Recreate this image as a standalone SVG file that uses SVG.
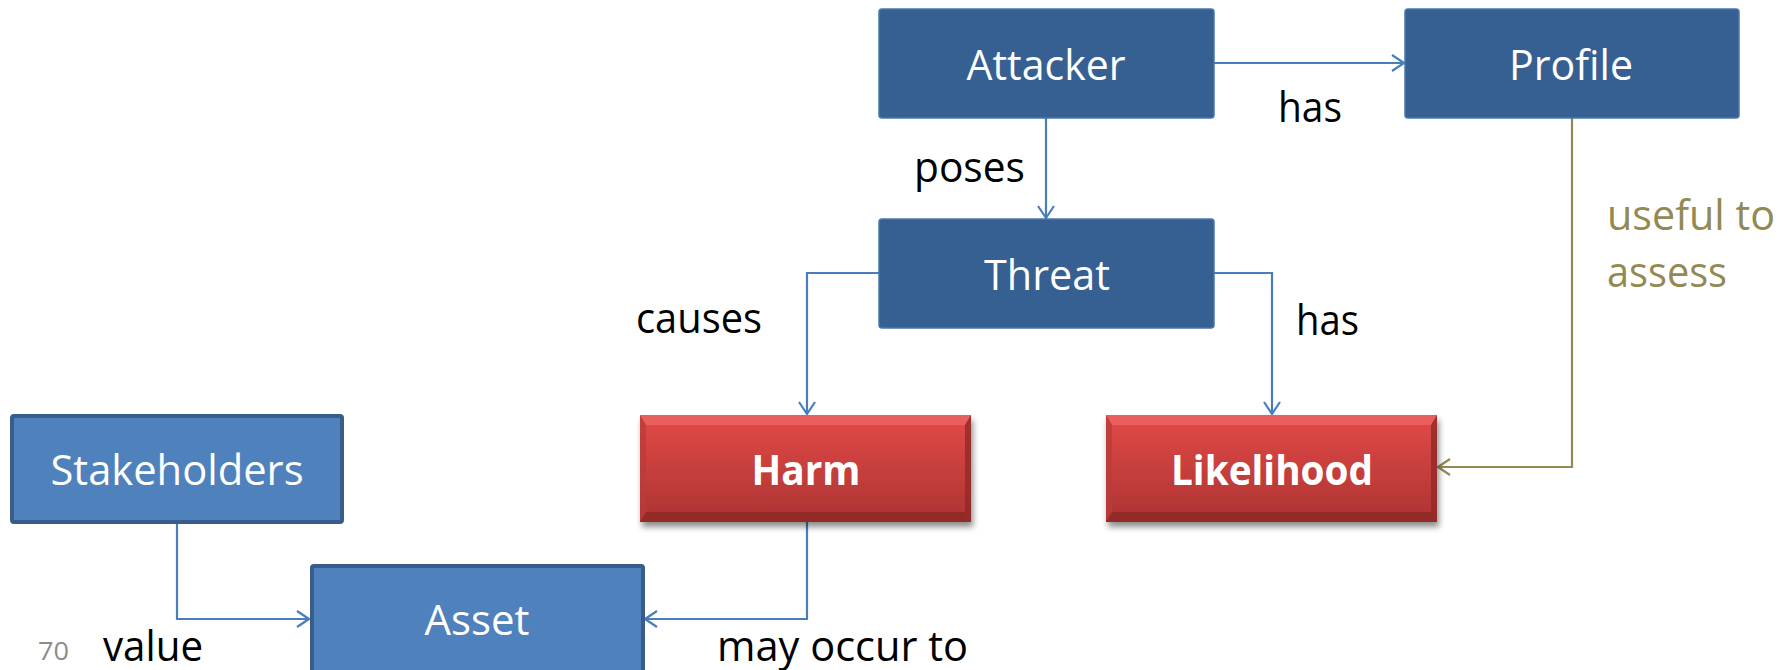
<svg xmlns="http://www.w3.org/2000/svg" width="1790" height="670" viewBox="0 0 1790 670">
<style>
.dark{fill:#376092;stroke:#4a76ad;stroke-width:1.5}
.light{fill:#4f81bd;stroke:#385d8a;stroke-width:4}
.nt{font-family:"Open Sans","Liberation Sans",sans-serif;font-size:42px;fill:#fff;text-anchor:middle}
.bt{font-family:"Open Sans","Liberation Sans",sans-serif;font-size:42px;font-weight:bold;fill:#fff;text-anchor:middle}
.lb{font-family:"Open Sans","Liberation Sans",sans-serif;font-size:42px;fill:#000}
.ol{font-family:"Open Sans","Liberation Sans",sans-serif;font-size:42px;fill:#938953}
.ln{fill:none;stroke:#4a7ebb;stroke-width:2.2}
.lo{fill:none;stroke:#938953;stroke-width:2.2}
</style>
<defs>
<linearGradient id="red" x1="0" y1="0" x2="0" y2="1">
<stop offset="0" stop-color="#e24a48"/>
<stop offset="1" stop-color="#ad3331"/>
</linearGradient>
<filter id="sh" x="-10%" y="-10%" width="125%" height="130%">
<feGaussianBlur in="SourceAlpha" stdDeviation="3"/>
<feOffset dx="2" dy="5" result="b"/>
<feComponentTransfer><feFuncA type="linear" slope="0.45"/></feComponentTransfer>
<feMerge><feMergeNode/><feMergeNode in="SourceGraphic"/></feMerge>
</filter>
<marker id="ab" viewBox="0 0 14 18" refX="13" refY="9" markerWidth="14" markerHeight="18" markerUnits="userSpaceOnUse" orient="auto">
<path d="M1,1 L13,9 L1,17" fill="none" stroke="#4a7ebb" stroke-width="2.2"/>
</marker>
<marker id="ao" viewBox="0 0 14 18" refX="13" refY="9" markerWidth="14" markerHeight="18" markerUnits="userSpaceOnUse" orient="auto">
<path d="M1,1 L13,9 L1,17" fill="none" stroke="#938953" stroke-width="2.2"/>
</marker>
</defs>

<g id="connectors">
<path class="ln" d="M1214,63 H1404" marker-end="url(#ab)"/>
<path class="ln" d="M1046,118 V218" marker-end="url(#ab)"/>
<path class="ln" d="M879,273 H807 V414" marker-end="url(#ab)"/>
<path class="ln" d="M1214,273 H1272 V414" marker-end="url(#ab)"/>
<path class="lo" d="M1572,118 V467 H1438" marker-end="url(#ao)"/>
<path class="ln" d="M177,523 V619 H309" marker-end="url(#ab)"/>
<path class="ln" d="M807,521 V619 H645" marker-end="url(#ab)"/>
</g>

<g id="attacker">
<rect class="dark" x="879" y="9" width="335" height="109" rx="3"/>
<text class="nt" x="1046" y="80" textLength="159" lengthAdjust="spacingAndGlyphs">Attacker</text>
</g>
<g id="profile">
<rect class="dark" x="1405" y="9" width="334" height="109" rx="3"/>
<text class="nt" x="1571" y="80" textLength="124" lengthAdjust="spacingAndGlyphs">Profile</text>
</g>
<g id="threat">
<rect class="dark" x="879" y="219" width="335" height="109" rx="3"/>
<text class="nt" x="1047" y="290" textLength="126" lengthAdjust="spacingAndGlyphs">Threat</text>
</g>
<g id="harm">
<g filter="url(#sh)">
<rect x="640" y="415" width="331" height="107" fill="url(#red)"/>
</g>
<polygon points="640,415 971,415 965,425 646,425" fill="#ec6a67" opacity="0.7"/>
<polygon points="640,415 646,425 646,512 640,522" fill="#b93c3a" opacity="0.8"/>
<polygon points="971,415 965,425 965,512 971,522" fill="#8f2a28" opacity="0.8"/>
<polygon points="640,522 646,512 965,512 971,522" fill="#8c2826" opacity="0.8"/>
<text class="bt" x="806" y="485" textLength="109" lengthAdjust="spacingAndGlyphs">Harm</text>
</g>
<g id="likelihood">
<g filter="url(#sh)">
<rect x="1106" y="415" width="331" height="107" fill="url(#red)"/>
</g>
<polygon points="1106,415 1437,415 1431,425 1112,425" fill="#ec6a67" opacity="0.7"/>
<polygon points="1106,415 1112,425 1112,512 1106,522" fill="#b93c3a" opacity="0.8"/>
<polygon points="1437,415 1431,425 1431,512 1437,522" fill="#8f2a28" opacity="0.8"/>
<polygon points="1106,522 1112,512 1431,512 1437,522" fill="#8c2826" opacity="0.8"/>
<text class="bt" x="1272" y="485" textLength="202" lengthAdjust="spacingAndGlyphs">Likelihood</text>
</g>
<g id="stakeholders">
<rect class="light" x="12" y="416" width="330" height="106" rx="2"/>
<text class="nt" x="177" y="485" textLength="253" lengthAdjust="spacingAndGlyphs">Stakeholders</text>
</g>
<g id="asset">
<rect class="light" x="312" y="566" width="331" height="110" rx="2"/>
<text class="nt" x="477" y="635" textLength="105" lengthAdjust="spacingAndGlyphs">Asset</text>
</g>

<g id="labels">
<text class="lb" x="1278" y="122" textLength="64" lengthAdjust="spacingAndGlyphs">has</text>
<text class="lb" x="914" y="182" textLength="111" lengthAdjust="spacingAndGlyphs">poses</text>
<text class="lb" x="636" y="333" textLength="126" lengthAdjust="spacingAndGlyphs">causes</text>
<text class="lb" x="1296" y="335" textLength="63" lengthAdjust="spacingAndGlyphs">has</text>
<text class="ol" x="1607" y="230" textLength="168" lengthAdjust="spacingAndGlyphs">useful to</text>
<text class="ol" x="1607" y="287" textLength="120" lengthAdjust="spacingAndGlyphs">assess</text>
<text class="lb" x="103" y="661" textLength="100" lengthAdjust="spacingAndGlyphs">value</text>
<text class="lb" x="717" y="661" textLength="251" lengthAdjust="spacingAndGlyphs">may occur to</text>
<text x="38" y="660" font-family="'Open Sans','Liberation Sans',sans-serif" font-size="26" fill="#8c8c8c" textLength="31" lengthAdjust="spacingAndGlyphs">70</text>
</g>
</svg>
